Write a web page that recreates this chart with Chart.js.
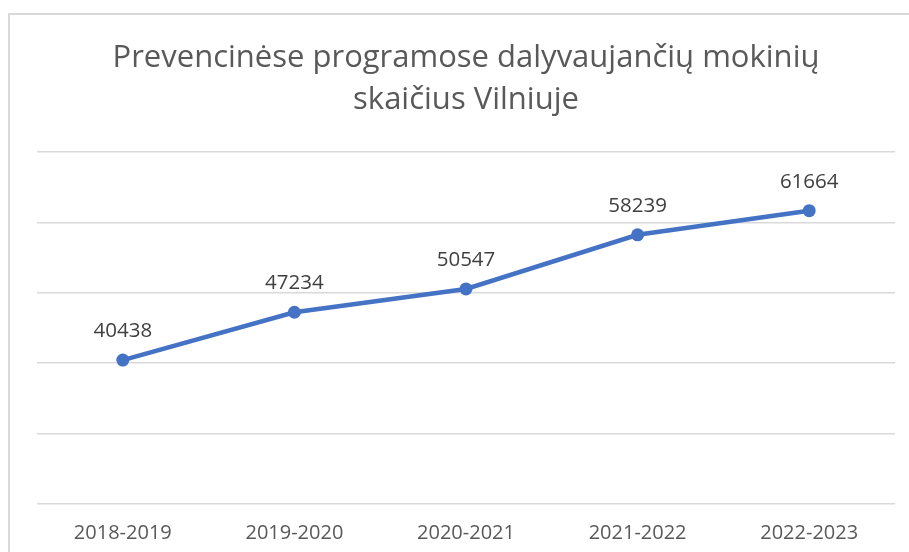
<!DOCTYPE html>
<html>
<head>
<meta charset="utf-8">
<script src="https://cdn.jsdelivr.net/npm/chart.js@4/dist/chart.umd.min.js"></script>
<style>
  html, body { margin: 0; padding: 0; background: #fff; }
  #wrap { position: relative; width: 909px; height: 552px; overflow: hidden; }
  #frame { position: absolute; left: 8px; top: 13px; width: 1000px; height: 1000px;
           border-left: 2px solid #d9d9d9; border-top: 2px solid #d9d9d9; box-sizing: border-box; }
  canvas { position: absolute; left: 0; top: 0; }
</style>
</head>
<body>
<div id="wrap">
  <div id="frame"></div>
  <canvas id="c" width="909" height="552"></canvas>
</div>
<script>
const categories = ['2018-2019', '2019-2020', '2020-2021', '2021-2022', '2022-2023'];
const students = [40438, 47234, 50547, 58239, 61664];
const titleLines = ['Prevencinėse programose dalyvaujančių mokinių', 'skaičius Vilniuje'];

const FONT = '"Open Sans", "Noto Sans", sans-serif';

// Writes each point's value above its marker
const valueLabels = {
  id: 'valueLabels',
  afterDatasetsDraw(chart) {
    const ctx = chart.ctx;
    const meta = chart.getDatasetMeta(0);
    ctx.save();
    ctx.font = '20.5px ' + FONT;
    ctx.fillStyle = '#404040';
    ctx.textAlign = 'center';
    ctx.textBaseline = 'middle';
    meta.data.forEach((pt, i) => {
      ctx.fillText(String(chart.data.datasets[0].data[i]), pt.x, pt.y - 29);
    });
    ctx.restore();
  }
};

new Chart(document.getElementById('c'), {
  type: 'line',
  data: {
    labels: categories,
    datasets: [{
      data: students,
      borderColor: '#4472C4',
      backgroundColor: '#4472C4',
      borderWidth: 4.5,
      pointRadius: 6.5,
      pointHoverRadius: 6.5,
      pointBackgroundColor: '#4472C4',
      pointBorderWidth: 0,
      tension: 0,
      clip: false
    }]
  },
  options: {
    responsive: false,
    animation: false,
    events: [],
    layout: { padding: { left: 37, right: 14, top: 0, bottom: 0 } },
    plugins: {
      legend: { display: false },
      tooltip: { enabled: false },
      title: {
        display: true,
        text: titleLines,
        color: '#595959',
        font: { family: FONT, size: 31, weight: 'normal', lineHeight: 1.355 },
        padding: { top: 37, bottom: 31 }
      }
    },
    scales: {
      x: {
        offset: true,
        grid: { display: false, drawTicks: false },
        border: { display: false },
        ticks: { color: '#595959', font: { family: FONT, size: 20 }, padding: 17, maxRotation: 0 },
        afterFit(scale) { scale.height = 48; }
      },
      y: {
        min: 20000,
        max: 70000,
        ticks: { display: false, stepSize: 10000 },
        grid: { color: '#d9d9d9', lineWidth: 1.5, drawTicks: false },
        border: { display: false },
        afterFit(scale) { scale.width = 0; }
      }
    }
  },
  plugins: [valueLabels]
});
</script>
</body>
</html>
